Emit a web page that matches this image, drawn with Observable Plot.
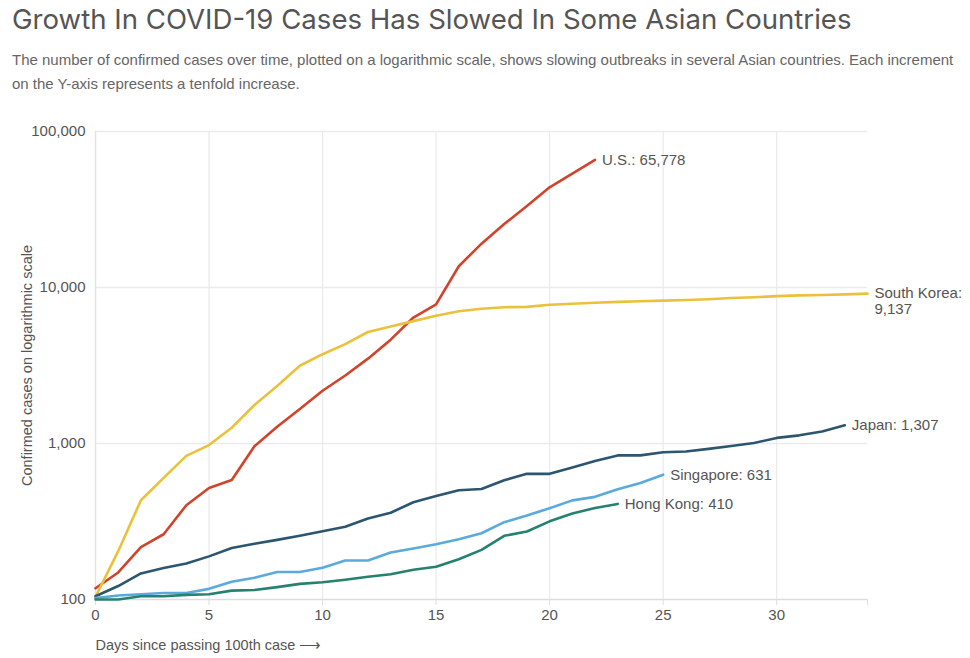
<!DOCTYPE html>
<html>
<head>
<meta charset="utf-8">
<script src="https://cdn.jsdelivr.net/npm/d3@7"></script>
<script src="https://cdn.jsdelivr.net/npm/@observablehq/plot@0.6"></script>
<style>
  html, body { margin: 0; padding: 0; background: #fff; }
  #wrap { position: relative; width: 970px; height: 658px; overflow: hidden; }
  #title { position: absolute; left: 12px; top: 2px; margin: 0; font-family: Inter, "Open Sans", sans-serif; font-weight: 400; font-size: 27.6px; color: #555; white-space: nowrap; }
  #sub { position: absolute; left: 12px; top: 48px; width: 955px; margin: 0; font-family: "Liberation Sans", Arial, sans-serif; font-size: 15px; line-height: 24px; color: #666; }
  #chart { position: absolute; left: 0; top: 110px; }
  #chart svg { overflow: visible; }
</style>
</head>
<body>
<div id="wrap">
  <h1 id="title">Growth In COVID-19 Cases Has Slowed In Some Asian Countries</h1>
  <p id="sub">The number of confirmed cases over time, plotted on a logarithmic scale, shows slowing outbreaks in several Asian countries. Each increment on the Y-axis represents a tenfold increase.</p>
  <div id="chart"></div>
</div>
<script>
const countries = ["U.S.", "South Korea", "Japan", "Singapore", "Hong Kong"];
const colors = ["#d1432b", "#ebc13b", "#2c5670", "#5aaade", "#24826f"];

const usCases = [118, 149, 217, 262, 402, 518, 583, 959, 1281, 1663, 2179, 2727, 3499, 4632, 6421, 7786, 13680, 19101, 25493, 33276, 43847, 53740, 65778];
const southKoreaCases = [104, 204, 433, 602, 833, 977, 1261, 1766, 2337, 3150, 3736, 4335, 5186, 5621, 6088, 6593, 7041, 7314, 7478, 7513, 7755, 7869, 7979, 8086, 8162, 8236, 8320, 8413, 8565, 8652, 8799, 8897, 8961, 9037, 9137];
const japanCases = [105, 122, 147, 159, 170, 189, 214, 228, 241, 256, 274, 293, 331, 360, 420, 461, 502, 511, 581, 639, 639, 701, 773, 839, 839, 878, 889, 924, 963, 1007, 1086, 1128, 1193, 1307];
const singaporeCases = [102, 106, 108, 110, 110, 117, 130, 138, 150, 150, 160, 178, 178, 200, 212, 226, 243, 266, 313, 345, 385, 432, 455, 509, 558, 631];
const hongKongCases = [100, 100, 105, 105, 107, 108, 114, 115, 120, 126, 129, 134, 140, 145, 155, 162, 181, 208, 256, 273, 317, 356, 386, 410];

const xTicks = [0, 5, 10, 15, 20, 25, 30, 34];
const yTicks = [100, 1000, 10000, 100000];

const seriesValues = [usCases, southKoreaCases, japanCases, singaporeCases, hongKongCases];
const rows = [];
seriesValues.forEach((vals, i) => vals.forEach((v, d) => rows.push({country: countries[i], day: d, cases: v})));
const lastRows = seriesValues.map((vals, i) => ({country: countries[i], day: vals.length - 1, cases: vals[vals.length - 1]}));
const fmt = d3.format(",");
const singleLabels = lastRows.filter(r => r.country !== "South Korea");
const multiLabels = lastRows.filter(r => r.country === "South Korea");

const chart = Plot.plot({
  width: 970,
  height: 548,
  marginLeft: 95,
  marginRight: 103,
  marginTop: 21,
  marginBottom: 59,
  style: {fontFamily: '"Liberation Sans", Arial, sans-serif', fontSize: "15px", color: "#555", background: "#fff"},
  x: {domain: [0, 34]},
  y: {type: "log", domain: [100, 100000]},
  color: {domain: countries, range: colors},
  marks: [
    Plot.ruleY(yTicks.slice(1), {stroke: "#ebebeb", strokeWidth: 1.3}),
    Plot.ruleX(xTicks.slice(1, -1), {stroke: "#ebebeb", strokeWidth: 1.3}),
    Plot.ruleX([0], {stroke: "#e3e3e3", strokeWidth: 1.5}),
    Plot.ruleY([100], {stroke: "#dddddd", strokeWidth: 1.3}),
    Plot.axisX({ticks: xTicks, tickFormat: d => d === 34 ? "" : String(d), tickSize: 6, tickPadding: 4, stroke: "#dddddd", fill: "#555", label: null}),
    Plot.axisY({ticks: yTicks, tickFormat: d => fmt(d), tickSize: 0, tickPadding: 10, fill: "#555", label: null}),
    Plot.text(["Confirmed cases on logarithmic scale"], {text: d => d, frameAnchor: "left", textAnchor: "middle", rotate: -90, dx: -68, fill: "#555", fontSize: 14.5}),
    Plot.text(["Days since passing 100th case \u27F6"], {text: d => d, frameAnchor: "bottom-left", textAnchor: "start", dy: 50, fill: "#555", fontSize: 14.5}),
    Plot.line(rows, {x: "day", y: "cases", z: "country", stroke: "country", strokeWidth: 2.6}),
    Plot.text(singleLabels, {x: "day", y: "cases", text: r => `${r.country}: ${fmt(r.cases)}`, textAnchor: "start", dx: 7, fill: "#555"}),
    Plot.text(multiLabels, {x: "day", y: "cases", text: r => `${r.country}:\n${fmt(r.cases)}`, textAnchor: "start", dx: 7, dy: 7, fill: "#555", lineHeight: 1.1}),
  ]
});
document.getElementById("chart").appendChild(chart);
</script>
</body>
</html>
